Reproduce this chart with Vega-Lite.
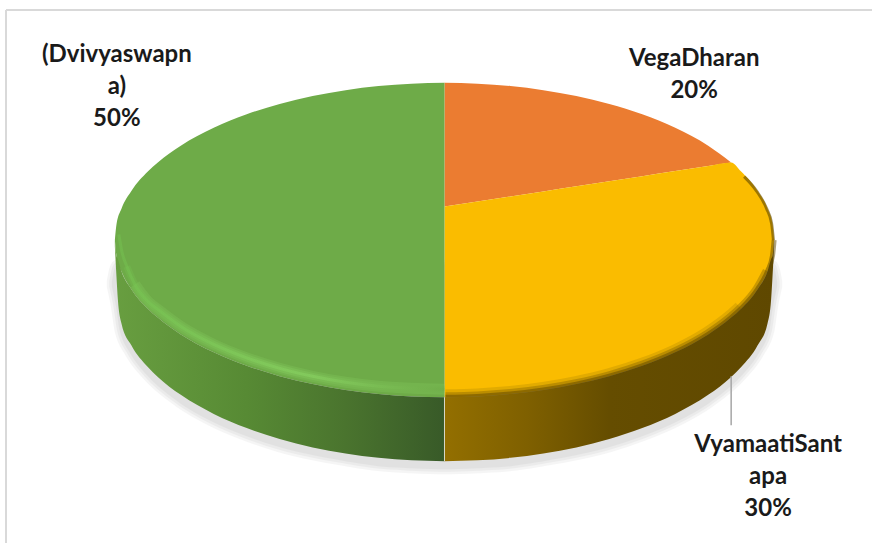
{
  "$schema": "https://vega.github.io/schema/vega-lite/v6.json",
  "width": 873,
  "height": 544,
  "padding": 0,
  "autosize": {"type": "fit", "contains": "padding"},
  "background": "white",
  "config": {"view": {"stroke": null}},
  "datasets": {
    "surface": [
      {"slice": "VegaDharan", "share": 20, "x": 0, "y": -124, "y2": 0},
      {"slice": "VegaDharan", "share": 20, "x": 33, "y": -123.2, "y2": -5.1},
      {"slice": "VegaDharan", "share": 20, "x": 66, "y": -120.8, "y2": -10.2},
      {"slice": "VegaDharan", "share": 20, "x": 99, "y": -116.7, "y2": -15.2},
      {"slice": "VegaDharan", "share": 20, "x": 132, "y": -110.8, "y2": -20.3},
      {"slice": "VegaDharan", "share": 20, "x": 165, "y": -102.9, "y2": -25.4},
      {"slice": "VegaDharan", "share": 20, "x": 198, "y": -92.5, "y2": -30.5},
      {"slice": "VegaDharan", "share": 20, "x": 231, "y": -79, "y2": -35.6},
      {"slice": "VegaDharan", "share": 20, "x": 264, "y": -61, "y2": -40.6},
      {"slice": "VegaDharan", "share": 20, "x": 287, "y": -44.2, "y2": -44.2},
      {"slice": "VyamaatiSantapa", "share": 30, "x": 0, "y": 0, "y2": 191},
      {"slice": "VyamaatiSantapa", "share": 30, "x": 33, "y": -5.1, "y2": 190.2},
      {"slice": "VyamaatiSantapa", "share": 30, "x": 66, "y": -10.2, "y2": 187.8},
      {"slice": "VyamaatiSantapa", "share": 30, "x": 99, "y": -15.2, "y2": 183.7},
      {"slice": "VyamaatiSantapa", "share": 30, "x": 132, "y": -20.3, "y2": 177.8},
      {"slice": "VyamaatiSantapa", "share": 30, "x": 165, "y": -25.4, "y2": 169.9},
      {"slice": "VyamaatiSantapa", "share": 30, "x": 198, "y": -30.5, "y2": 159.5},
      {"slice": "VyamaatiSantapa", "share": 30, "x": 231, "y": -35.6, "y2": 146},
      {"slice": "VyamaatiSantapa", "share": 30, "x": 264, "y": -40.6, "y2": 128},
      {"slice": "VyamaatiSantapa", "share": 30, "x": 287, "y": -44.2, "y2": 111.2},
      {"slice": "VyamaatiSantapa", "share": 30, "x": 297, "y": -35.2, "y2": 102.2},
      {"slice": "VyamaatiSantapa", "share": 30, "x": 313.5, "y": -15.7, "y2": 82.7},
      {"slice": "VyamaatiSantapa", "share": 30, "x": 323.4, "y": 2.2, "y2": 64.8},
      {"slice": "VyamaatiSantapa", "share": 30, "x": 328.4, "y": 17.8, "y2": 49.2},
      {"slice": "VyamaatiSantapa", "share": 30, "x": 330, "y": 33.5, "y2": 33.5},
      {"slice": "Dvivyaswapna", "share": 50, "x": -330, "y": 33.5, "y2": 33.5},
      {"slice": "Dvivyaswapna", "share": 50, "x": -328.4, "y": 17.8, "y2": 49.2},
      {"slice": "Dvivyaswapna", "share": 50, "x": -323.4, "y": 2.2, "y2": 64.8},
      {"slice": "Dvivyaswapna", "share": 50, "x": -313.5, "y": -15.7, "y2": 82.7},
      {"slice": "Dvivyaswapna", "share": 50, "x": -297, "y": -35.2, "y2": 102.2},
      {"slice": "Dvivyaswapna", "share": 50, "x": -287, "y": -44.2, "y2": 111.2},
      {"slice": "Dvivyaswapna", "share": 50, "x": -264, "y": -61, "y2": 128},
      {"slice": "Dvivyaswapna", "share": 50, "x": -231, "y": -79, "y2": 146},
      {"slice": "Dvivyaswapna", "share": 50, "x": -198, "y": -92.5, "y2": 159.5},
      {"slice": "Dvivyaswapna", "share": 50, "x": -165, "y": -102.9, "y2": 169.9},
      {"slice": "Dvivyaswapna", "share": 50, "x": -132, "y": -110.8, "y2": 177.8},
      {"slice": "Dvivyaswapna", "share": 50, "x": -99, "y": -116.7, "y2": 183.7},
      {"slice": "Dvivyaswapna", "share": 50, "x": -66, "y": -120.8, "y2": 187.8},
      {"slice": "Dvivyaswapna", "share": 50, "x": -33, "y": -123.2, "y2": 190.2},
      {"slice": "Dvivyaswapna", "share": 50, "x": 0, "y": -124, "y2": 191}
    ],
    "wall": [
      {"slice": "Dvivyaswapna", "x": -330, "y": 33.5, "y2": 40},
      {"slice": "Dvivyaswapna", "x": -328.4, "y": 49.2, "y2": 70},
      {"slice": "Dvivyaswapna", "x": -327, "y": 52.5, "y2": 93},
      {"slice": "Dvivyaswapna", "x": -323.4, "y": 64.8, "y2": 117},
      {"slice": "Dvivyaswapna", "x": -313.5, "y": 82.7, "y2": 139},
      {"slice": "Dvivyaswapna", "x": -297, "y": 102.2, "y2": 160.7},
      {"slice": "Dvivyaswapna", "x": -287, "y": 111.2, "y2": 170.6},
      {"slice": "Dvivyaswapna", "x": -264, "y": 128, "y2": 188.6},
      {"slice": "Dvivyaswapna", "x": -231, "y": 146, "y2": 207.7},
      {"slice": "Dvivyaswapna", "x": -198, "y": 159.5, "y2": 221.9},
      {"slice": "Dvivyaswapna", "x": -165, "y": 169.9, "y2": 232.9},
      {"slice": "Dvivyaswapna", "x": -132, "y": 177.8, "y2": 241.2},
      {"slice": "Dvivyaswapna", "x": -99, "y": 183.7, "y2": 247.4},
      {"slice": "Dvivyaswapna", "x": -66, "y": 187.8, "y2": 251.7},
      {"slice": "Dvivyaswapna", "x": -33, "y": 190.2, "y2": 254.2},
      {"slice": "Dvivyaswapna", "x": 0, "y": 191, "y2": 255},
      {"slice": "VyamaatiSantapa", "x": 0, "y": 191, "y2": 255},
      {"slice": "VyamaatiSantapa", "x": 33, "y": 190.2, "y2": 254.2},
      {"slice": "VyamaatiSantapa", "x": 66, "y": 187.8, "y2": 251.7},
      {"slice": "VyamaatiSantapa", "x": 99, "y": 183.7, "y2": 247.4},
      {"slice": "VyamaatiSantapa", "x": 132, "y": 177.8, "y2": 241.2},
      {"slice": "VyamaatiSantapa", "x": 165, "y": 169.9, "y2": 232.9},
      {"slice": "VyamaatiSantapa", "x": 198, "y": 159.5, "y2": 221.9},
      {"slice": "VyamaatiSantapa", "x": 231, "y": 146, "y2": 207.7},
      {"slice": "VyamaatiSantapa", "x": 264, "y": 128, "y2": 188.6},
      {"slice": "VyamaatiSantapa", "x": 287, "y": 111.2, "y2": 170.6},
      {"slice": "VyamaatiSantapa", "x": 297, "y": 102.2, "y2": 160.7},
      {"slice": "VyamaatiSantapa", "x": 313.5, "y": 82.7, "y2": 139},
      {"slice": "VyamaatiSantapa", "x": 323.4, "y": 64.8, "y2": 117},
      {"slice": "VyamaatiSantapa", "x": 327, "y": 52.5, "y2": 93},
      {"slice": "VyamaatiSantapa", "x": 328.4, "y": 49.2, "y2": 70},
      {"slice": "VyamaatiSantapa", "x": 330, "y": 33.5, "y2": 40}
    ],
    "shadow": [
      {"x": -331, "y": 75, "y2": 80},
      {"x": -327, "y": 60, "y2": 99},
      {"x": -323.4, "y": 60, "y2": 123},
      {"x": -313.5, "y": 60, "y2": 145},
      {"x": -297, "y": 60, "y2": 167},
      {"x": -264, "y": 60, "y2": 195},
      {"x": -231, "y": 60, "y2": 214},
      {"x": -198, "y": 60, "y2": 228},
      {"x": -165, "y": 60, "y2": 239},
      {"x": -132, "y": 60, "y2": 247},
      {"x": -99, "y": 60, "y2": 253},
      {"x": -66, "y": 60, "y2": 258},
      {"x": -33, "y": 60, "y2": 260},
      {"x": 0, "y": 60, "y2": 261},
      {"x": 33, "y": 60, "y2": 260},
      {"x": 66, "y": 60, "y2": 258},
      {"x": 99, "y": 60, "y2": 253},
      {"x": 132, "y": 60, "y2": 247},
      {"x": 165, "y": 60, "y2": 239},
      {"x": 198, "y": 60, "y2": 228},
      {"x": 231, "y": 60, "y2": 214},
      {"x": 264, "y": 60, "y2": 195},
      {"x": 297, "y": 60, "y2": 167},
      {"x": 313.5, "y": 60, "y2": 145},
      {"x": 323.4, "y": 60, "y2": 123},
      {"x": 327, "y": 60, "y2": 99},
      {"x": 331, "y": 75, "y2": 80}
    ],
    "greenBevel": [
      {"x": -326, "y": 28}, {"x": -323, "y": 45}, {"x": -318, "y": 60},
      {"x": -310, "y": 78}, {"x": -297, "y": 95}, {"x": -287, "y": 103},
      {"x": -264, "y": 120}, {"x": -231, "y": 138}, {"x": -198, "y": 151.5},
      {"x": -165, "y": 162}, {"x": -132, "y": 170}, {"x": -99, "y": 176},
      {"x": -66, "y": 180}, {"x": -33, "y": 182}, {"x": 0, "y": 183}
    ],
    "yellowBevel": [
      {"x": 1, "y": 191}, {"x": 33, "y": 190.2}, {"x": 66, "y": 187.8},
      {"x": 99, "y": 183.7}, {"x": 132, "y": 177.8}, {"x": 165, "y": 169.9},
      {"x": 198, "y": 159.5}, {"x": 231, "y": 146}, {"x": 264, "y": 128},
      {"x": 287, "y": 111.2}, {"x": 297, "y": 102.2}, {"x": 313.5, "y": 82.7},
      {"x": 323.4, "y": 64.8}, {"x": 328.4, "y": 49.2}, {"x": 330, "y": 33.5}
    ],
    "yellowEdge": [
      {"x": 300, "y": -30}, {"x": 312.5, "y": -15.5}, {"x": 322.5, "y": 2},
      {"x": 327.5, "y": 17}, {"x": 329.3, "y": 33.5}
    ],
    "labels": [
      {"slice": "Dvivyaswapna", "share": 50, "label": "(Dvivyaswapn\na)\n50%", "x": -328, "y": -164},
      {"slice": "VegaDharan", "share": 20, "label": "VegaDharan\n20%", "x": 250, "y": -160},
      {"slice": "VyamaatiSantapa", "share": 30, "label": "VyamaatiSant\napa\n30%", "x": 324, "y": 227}
    ],
    "frame": [
      {"x": -439, "x2": 428, "y": -197, "y2": -197},
      {"x": -439, "x2": -439, "y": -197, "y2": 337}
    ]
  },
  "encoding": {
    "x": {"field": "x", "type": "quantitative", "axis": null, "scale": {"domain": [-445, 428], "nice": false, "zero": false}},
    "y": {"field": "y", "type": "quantitative", "axis": null, "stack": null, "scale": {"domain": [-207, 337], "reverse": true, "nice": false, "zero": false}}
  },
  "layer": [
    {
      "data": {"name": "frame"},
      "mark": {"type": "rule", "stroke": "#d9d9d9", "strokeWidth": 2},
      "encoding": {"x2": {"field": "x2"}, "y2": {"field": "y2"}}
    },
    {
      "data": {"name": "shadow"},
      "mark": {"type": "area", "interpolate": "monotone", "color": "#000000", "stroke": "#000000", "strokeWidth": 14, "opacity": 0.035},
      "encoding": {"y2": {"field": "y2"}}
    },
    {
      "data": {"name": "shadow"},
      "mark": {"type": "area", "interpolate": "monotone", "color": "#000000", "stroke": "#000000", "strokeWidth": 9, "opacity": 0.035},
      "encoding": {"y2": {"field": "y2"}}
    },
    {
      "data": {"name": "shadow"},
      "mark": {"type": "area", "interpolate": "monotone", "color": "#000000", "stroke": "#000000", "strokeWidth": 4, "opacity": 0.035},
      "encoding": {"y2": {"field": "y2"}}
    },
    {
      "data": {"name": "surface"},
      "mark": {"type": "area", "interpolate": "monotone"},
      "encoding": {
        "y2": {"field": "y2"},
        "color": {
          "field": "slice",
          "type": "nominal",
          "legend": null,
          "scale": {"domain": ["VegaDharan", "VyamaatiSantapa", "Dvivyaswapna"], "range": ["#eb7c31", "#fabc00", "#6eab48"]}
        }
      }
    },
    {
      "data": {"name": "greenBevel"},
      "transform": [{"filter": "datum.x >= -310"}],
      "mark": {"type": "line", "interpolate": "monotone", "strokeWidth": 11, "opacity": 0.18, "strokeCap": "butt", "stroke": "#8fdc68"}
    },
    {
      "data": {"name": "greenBevel"},
      "transform": [{"filter": "datum.x >= -318"}],
      "mark": {"type": "line", "interpolate": "monotone", "strokeWidth": 7, "opacity": 0.25, "strokeCap": "butt", "stroke": {"x1": 0, "x2": 1, "y1": 0, "y2": 0, "gradient": "linear", "stops": [{"offset": 0, "color": "#76c752"}, {"offset": 0.5, "color": "#8fdc68"}, {"offset": 1, "color": "#6eab48"}]}}
    },
    {
      "data": {"name": "greenBevel"},
      "mark": {"type": "line", "interpolate": "monotone", "strokeWidth": 3, "opacity": 0.4, "strokeCap": "butt", "stroke": {"x1": 0, "x2": 1, "y1": 0, "y2": 0, "gradient": "linear", "stops": [{"offset": 0, "color": "#76c752"}, {"offset": 0.6, "color": "#8fdc68"}, {"offset": 1, "color": "#6eab48"}]}}
    },
    {
      "data": {"name": "yellowBevel"},
      "transform": [{"filter": "datum.x <= 297"}],
      "mark": {"type": "line", "interpolate": "monotone", "stroke": "#5f4800", "strokeWidth": 16, "opacity": 0.15, "strokeCap": "butt"}
    },
    {
      "data": {"name": "yellowBevel"},
      "transform": [{"filter": "datum.x <= 323.4"}],
      "mark": {"type": "line", "interpolate": "monotone", "stroke": "#5f4800", "strokeWidth": 10, "opacity": 0.3, "strokeCap": "butt"}
    },
    {
      "data": {"name": "yellowBevel"},
      "mark": {"type": "line", "interpolate": "monotone", "stroke": "#5f4800", "strokeWidth": 5, "opacity": 0.5, "strokeCap": "butt"}
    },
    {
      "data": {"name": "yellowEdge"},
      "mark": {"type": "line", "interpolate": "monotone", "stroke": "#5f4800", "strokeWidth": 3, "opacity": 0.6, "strokeCap": "butt"}
    },
    {
      "data": {"name": "wall"},
      "transform": [{"filter": "datum.slice === 'Dvivyaswapna'"}],
      "mark": {"type": "area", "interpolate": "monotone", "color": {"x1": 0, "x2": 1, "y1": 0, "y2": 0, "gradient": "linear", "stops": [{"offset": 0, "color": "#689e40"}, {"offset": 0.4, "color": "#578a34"}, {"offset": 0.7, "color": "#4a742e"}, {"offset": 1, "color": "#385a28"}]}},
      "encoding": {"y2": {"field": "y2"}}
    },
    {
      "data": {"name": "wall"},
      "transform": [{"filter": "datum.slice === 'VyamaatiSantapa'"}],
      "mark": {"type": "area", "interpolate": "monotone", "color": {"x1": 0, "x2": 1, "y1": 0, "y2": 0, "gradient": "linear", "stops": [{"offset": 0, "color": "#936f00"}, {"offset": 0.25, "color": "#7f6000"}, {"offset": 0.5, "color": "#654d00"}, {"offset": 1, "color": "#5f4800"}]}},
      "encoding": {"y2": {"field": "y2"}}
    },
    {
      "data": {"values": [{"x": 0, "y": 191, "y2": 255}]},
      "mark": {"type": "rule", "stroke": "#d8d8c8", "strokeWidth": 1},
      "encoding": {"y2": {"field": "y2"}}
    },
    {
      "data": {"values": [{"x": 287, "y": 170, "y2": 219}]},
      "mark": {"type": "rule", "stroke": "#a6a6a6", "strokeWidth": 1.5},
      "encoding": {"y2": {"field": "y2"}}
    },
    {
      "data": {"name": "labels"},
      "mark": {"type": "text", "font": "Lato", "fontWeight": "bold", "fontSize": 24, "lineBreak": "\n", "lineHeight": 32, "align": "center", "baseline": "top", "fill": "#1a1a1a"},
      "encoding": {"text": {"field": "label"}}
    }
  ]
}
